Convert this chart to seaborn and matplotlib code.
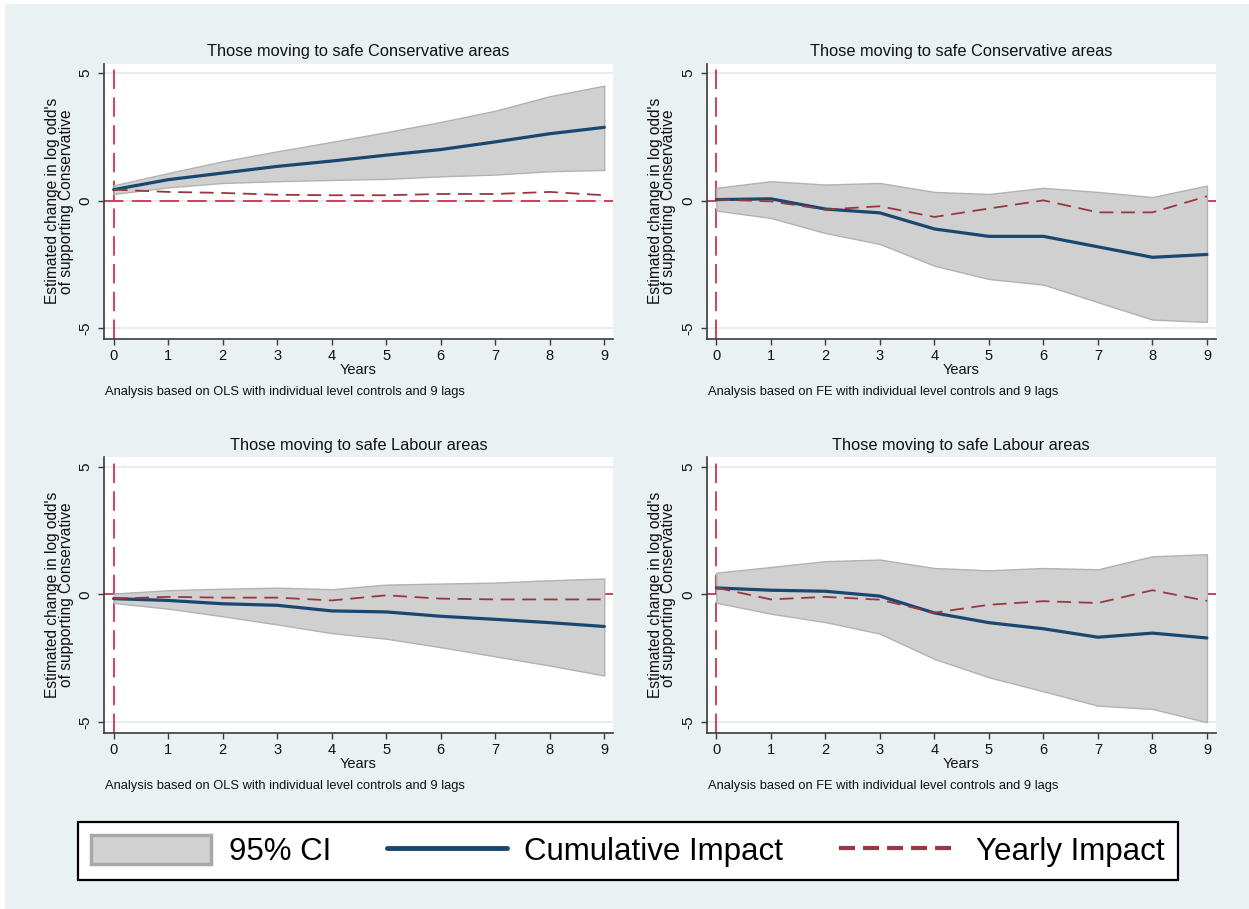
import numpy as np
import pandas as pd
import matplotlib
matplotlib.use("Agg")
import matplotlib.pyplot as plt
from matplotlib.patches import Patch, Rectangle
from matplotlib.lines import Line2D
import seaborn as sns

sns.set_theme(style='white')
plt.rcParams['font.family'] = ['Liberation Sans', 'DejaVu Sans']
plt.rcParams['lines.scale_dashes'] = False

# data
years = [0, 1, 2, 3, 4, 5, 6, 7, 8, 9]

# top left: conservative areas, OLS
ols_con_cum = [0.43, 0.82, 1.08, 1.34, 1.55, 1.78, 2.00, 2.30, 2.62, 2.87]
ols_con_hi = [0.60, 1.08, 1.54, 1.93, 2.30, 2.68, 3.08, 3.52, 4.09, 4.50]
ols_con_lo = [0.26, 0.52, 0.69, 0.76, 0.81, 0.85, 0.95, 1.02, 1.15, 1.20]
ols_con_year = [0.43, 0.34, 0.30, 0.23, 0.21, 0.21, 0.26, 0.26, 0.34, 0.21]

# top right: conservative areas, FE
fe_con_cum = [0.04, 0.07, -0.33, -0.48, -1.11, -1.40, -1.40, -1.81, -2.22, -2.11]
fe_con_hi = [0.50, 0.76, 0.63, 0.69, 0.34, 0.26, 0.50, 0.34, 0.14, 0.59]
fe_con_lo = [-0.39, -0.68, -1.27, -1.70, -2.55, -3.07, -3.29, -3.98, -4.66, -4.75]
fe_con_year = [0.04, -0.03, -0.35, -0.22, -0.64, -0.31, 0.01, -0.46, -0.46, 0.17]

# bottom left: labour areas, OLS
ols_lab_cum = [-0.17, -0.24, -0.37, -0.43, -0.65, -0.69, -0.86, -0.98, -1.11, -1.26]
ols_lab_hi = [0.03, 0.16, 0.22, 0.26, 0.20, 0.38, 0.42, 0.46, 0.55, 0.62]
ols_lab_lo = [-0.34, -0.56, -0.86, -1.18, -1.52, -1.74, -2.07, -2.43, -2.79, -3.18]
ols_lab_year = [-0.17, -0.10, -0.13, -0.13, -0.24, -0.04, -0.17, -0.20, -0.20, -0.20]

# bottom right: labour areas, FE
fe_lab_cum = [0.25, 0.16, 0.12, -0.07, -0.73, -1.11, -1.35, -1.68, -1.52, -1.71]
fe_lab_hi = [0.85, 1.07, 1.30, 1.36, 1.03, 0.94, 1.03, 0.98, 1.49, 1.57]
fe_lab_lo = [-0.33, -0.76, -1.09, -1.54, -2.53, -3.25, -3.80, -4.36, -4.49, -5.01]
fe_lab_year = [0.26, -0.20, -0.10, -0.21, -0.72, -0.41, -0.27, -0.34, 0.16, -0.26]

titles = ['Those moving to safe Conservative areas', 'Those moving to safe Conservative areas',
          'Those moving to safe Labour areas', 'Those moving to safe Labour areas']
notes = ['Analysis based on OLS with individual level controls and 9 lags',
         'Analysis based on FE with individual level controls and 9 lags',
         'Analysis based on OLS with individual level controls and 9 lags',
         'Analysis based on FE with individual level controls and 9 lags']
ylab = "Estimated change in log odd's\nof supporting Conservative"

panels = [
    (ols_con_cum, ols_con_lo, ols_con_hi, ols_con_year),
    (fe_con_cum, fe_con_lo, fe_con_hi, fe_con_year),
    (ols_lab_cum, ols_lab_lo, ols_lab_hi, ols_lab_year),
    (fe_lab_cum, fe_lab_lo, fe_lab_hi, fe_lab_year),
]

bg = '#eaf1f3'
blue = '#1a476f'
maroon = '#973840'
refred = '#d0203f'
ci_fill = '#d0d0d0'
ci_edge = '#b2b2b2'
txt = '#111111'

W, H = 1249, 909
fig = plt.figure(figsize=(W / 100, H / 100), dpi=100, facecolor='white')
fig.patches.append(Rectangle((5 / W, 0), 1, 1 - 4 / H, transform=fig.transFigure,
                             facecolor=bg, edgecolor='none', zorder=-10))

lefts = [104 / W, 706.7 / W]
bottoms = [1 - 339 / H, 1 - 732.7 / H]
aw = 509 / W
ah = 275.5 / H

for i, (cum, lo, hi, yr) in enumerate(panels):
    ax = fig.add_axes([lefts[i % 2], bottoms[i // 2], aw, ah])
    ax.set_facecolor('white')

    # grid lines at y ticks
    for yv in [-5, 0, 5]:
        ax.axhline(yv, color='#e4eced', lw=1.3, zorder=0)

    # reference lines
    ax.axhline(0, color=refred, lw=1.2, dashes=(14, 6), zorder=1)
    ax.axvline(0, color=refred, lw=1.2, dashes=(14, 6), zorder=1)

    ax.fill_between(years, lo, hi, facecolor=ci_fill, edgecolor=ci_edge, lw=1, zorder=2)
    sns.lineplot(x=years, y=cum, ax=ax, color=blue, linewidth=2.3, zorder=3)
    sns.lineplot(x=years, y=yr, ax=ax, color=maroon, linewidth=1.3, zorder=4)
    ax.lines[-1].set_dashes((10, 5.5))

    ax.set_xlim(-0.177, 9.16)
    ax.set_ylim(-5.42, 5.37)
    ax.set_xticks(years)
    ax.set_yticks([-5, 0, 5])
    ax.set_yticklabels(['-5', '0', '5'])
    for s in ['top', 'right']:
        ax.spines[s].set_visible(False)
    for s in ['left', 'bottom']:
        ax.spines[s].set_color('#3a3a3a')
        ax.spines[s].set_linewidth(1.2)
    ax.tick_params(axis='both', direction='out', length=4.5, width=1, color='#3a3a3a',
                   labelcolor=txt, bottom=True, left=True)
    ax.tick_params(axis='x', labelsize=10.5, pad=3)
    ax.tick_params(axis='y', labelsize=11, pad=4, labelrotation=90)
    for lab in ax.get_yticklabels():
        lab.set_va('center')

    ax.set_xlabel('Years', fontsize=10.5, labelpad=0, color=txt)
    ax.set_ylabel('')
    ax.text(-0.0875, 0.5, ylab, transform=ax.transAxes, rotation=90, ha='center',
            va='center', fontsize=11.2, linespacing=0.85, color=txt)
    ax.text(0.5, 1.044, titles[i], transform=ax.transAxes, ha='center', va='center',
            fontsize=11.8, color=txt)
    ax.text(0.002, -0.193, notes[i], transform=ax.transAxes, ha='left', va='center',
            fontsize=9.3, color=txt)

handles = [
    Patch(facecolor='#d3d3d3', edgecolor='#a8a8a8', linewidth=2.5),
    Line2D([], [], color=blue, linewidth=3.5),
    Line2D([], [], color=maroon, linewidth=3, dashes=(11.5, 5.8)),
]
leg = fig.legend(handles, ['95% CI', 'Cumulative Impact', 'Yearly Impact'],
                 loc='center', ncol=3, mode='expand',
                 bbox_to_anchor=(78 / W, 1 - 880 / H, 1100 / W, 58 / H),
                 fontsize=22.5, frameon=True, fancybox=False, framealpha=1,
                 edgecolor='black', handlelength=3.85, handleheight=1.05,
                 handletextpad=0.55, borderpad=0.42, borderaxespad=0, columnspacing=1.5)
leg.get_frame().set_linewidth(1.6)
leg.get_frame().set_facecolor('white')
for t in leg.get_texts():
    t.set_color('black')

fig.savefig('out.png', dpi=100, facecolor=fig.get_facecolor())
